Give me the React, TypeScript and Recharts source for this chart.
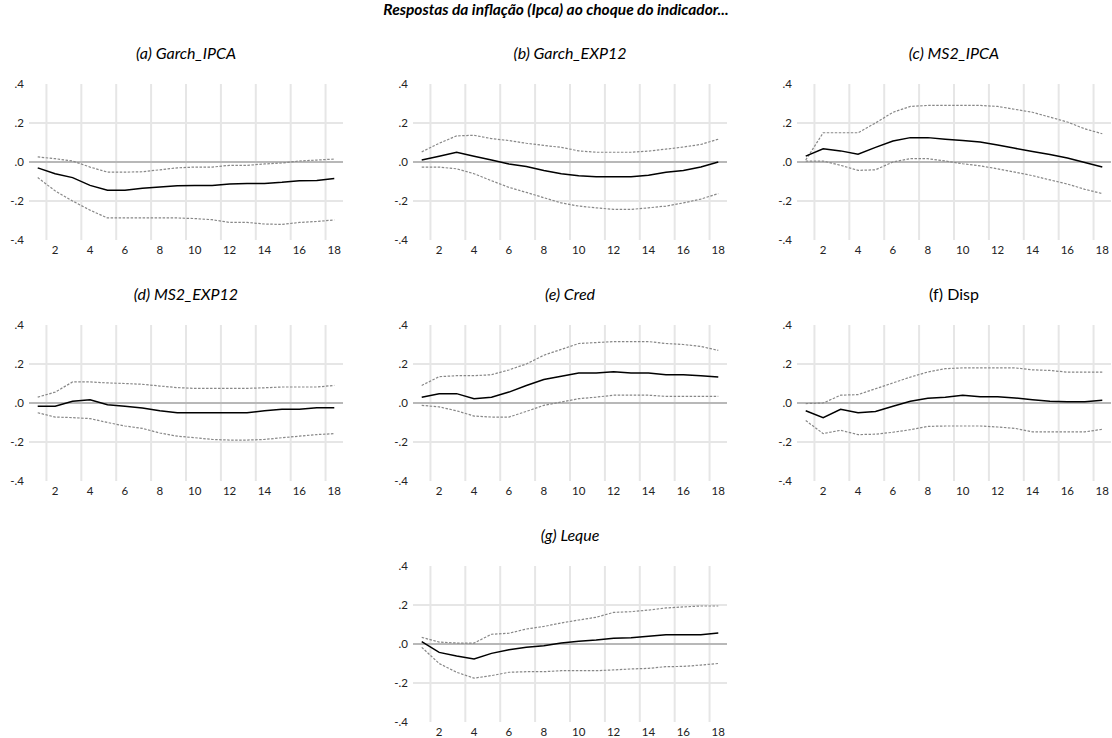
import React from 'react'
import { LineChart, Line, XAxis, YAxis, ReferenceLine } from 'recharts'

// horizontes (meses)
const horizons = [1, 2, 3, 4, 5, 6, 7, 8, 9, 10, 11, 12, 13, 14, 15, 16, 17, 18]
const xTicks = [2, 4, 6, 8, 10, 12, 14, 16, 18]
const yTicks = [-0.4, -0.2, 0, 0.2, 0.4]
const gridX = [1.5, 3.5, 5.5, 7.5, 9.5, 11.5, 13.5, 15.5, 17.5]
const gridY = [-0.2, 0.2]

// (a) Garch_IPCA
const garchIpcaResp = [-0.03, -0.06, -0.08, -0.12, -0.145, -0.145, -0.135, -0.128, -0.122, -0.12, -0.12, -0.113, -0.11, -0.11, -0.104, -0.096, -0.095, -0.085]
const garchIpcaUpper = [0.026, 0.017, 0.005, -0.026, -0.052, -0.052, -0.05, -0.04, -0.03, -0.026, -0.026, -0.017, -0.017, -0.01, -0.005, 0.005, 0.01, 0.015]
const garchIpcaLower = [-0.08, -0.148, -0.2, -0.247, -0.287, -0.287, -0.287, -0.287, -0.287, -0.29, -0.296, -0.31, -0.31, -0.318, -0.32, -0.31, -0.305, -0.297]

// (b) Garch_EXP12
const garchExpResp = [0.01, 0.03, 0.05, 0.03, 0.01, -0.01, -0.023, -0.044, -0.06, -0.07, -0.075, -0.075, -0.075, -0.068, -0.052, -0.044, -0.026, 0]
const garchExpUpper = [0.052, 0.096, 0.134, 0.137, 0.12, 0.11, 0.096, 0.085, 0.075, 0.057, 0.05, 0.05, 0.05, 0.056, 0.066, 0.077, 0.09, 0.117]
const garchExpLower = [-0.026, -0.026, -0.035, -0.06, -0.096, -0.13, -0.156, -0.183, -0.21, -0.226, -0.235, -0.243, -0.243, -0.235, -0.226, -0.21, -0.19, -0.162]

// (c) MS2_IPCA
const ms2IpcaResp = [0.03, 0.068, 0.057, 0.04, 0.075, 0.108, 0.125, 0.125, 0.117, 0.11, 0.103, 0.087, 0.07, 0.054, 0.038, 0.021, -0.003, -0.026]
const ms2IpcaUpper = [0.01, 0.15, 0.15, 0.15, 0.2, 0.255, 0.285, 0.29, 0.29, 0.29, 0.29, 0.285, 0.27, 0.255, 0.23, 0.205, 0.17, 0.145]
const ms2IpcaLower = [0.005, 0.005, -0.017, -0.043, -0.04, 0, 0.017, 0.017, 0.005, -0.009, -0.02, -0.035, -0.052, -0.07, -0.092, -0.113, -0.14, -0.162]

// (d) MS2_EXP12
const ms2ExpResp = [-0.017, -0.017, 0.009, 0.017, -0.009, -0.017, -0.026, -0.04, -0.05, -0.05, -0.05, -0.05, -0.05, -0.04, -0.032, -0.032, -0.024, -0.024]
const ms2ExpUpper = [0.03, 0.056, 0.108, 0.108, 0.103, 0.1, 0.096, 0.087, 0.079, 0.075, 0.075, 0.075, 0.075, 0.078, 0.082, 0.082, 0.082, 0.09]
const ms2ExpLower = [-0.05, -0.072, -0.075, -0.08, -0.1, -0.118, -0.13, -0.154, -0.17, -0.178, -0.187, -0.19, -0.19, -0.187, -0.178, -0.17, -0.162, -0.157]

// (e) Cred
const credResp = [0.03, 0.048, 0.048, 0.022, 0.03, 0.056, 0.09, 0.12, 0.137, 0.154, 0.154, 0.16, 0.154, 0.154, 0.145, 0.145, 0.14, 0.133]
const credUpper = [0.09, 0.135, 0.14, 0.14, 0.145, 0.17, 0.2, 0.245, 0.275, 0.305, 0.31, 0.315, 0.315, 0.315, 0.305, 0.3, 0.29, 0.27]
const credLower = [-0.012, -0.02, -0.04, -0.067, -0.072, -0.072, -0.043, -0.012, 0.005, 0.022, 0.03, 0.04, 0.04, 0.04, 0.034, 0.034, 0.034, 0.034]

// (f) Disp
const dispResp = [-0.04, -0.075, -0.032, -0.05, -0.043, -0.017, 0.009, 0.024, 0.03, 0.04, 0.032, 0.032, 0.026, 0.017, 0.009, 0.007, 0.007, 0.014]
const dispUpper = [-0.003, 0, 0.04, 0.043, 0.073, 0.103, 0.133, 0.159, 0.176, 0.18, 0.18, 0.18, 0.18, 0.17, 0.167, 0.158, 0.158, 0.158]
const dispLower = [-0.09, -0.157, -0.14, -0.162, -0.16, -0.15, -0.137, -0.12, -0.118, -0.118, -0.118, -0.123, -0.13, -0.148, -0.148, -0.148, -0.148, -0.135]

// (g) Leque
const lequeResp = [0.012, -0.043, -0.062, -0.077, -0.048, -0.03, -0.017, -0.009, 0.005, 0.014, 0.02, 0.03, 0.032, 0.04, 0.048, 0.048, 0.048, 0.056]
const lequeUpper = [0.034, 0.01, 0.005, 0.005, 0.05, 0.055, 0.077, 0.09, 0.108, 0.123, 0.137, 0.162, 0.166, 0.174, 0.185, 0.19, 0.195, 0.195]
const lequeLower = [-0.017, -0.1, -0.145, -0.175, -0.162, -0.145, -0.142, -0.142, -0.137, -0.137, -0.137, -0.133, -0.128, -0.125, -0.116, -0.115, -0.108, -0.1]

const FONT = 'Lato, "Open Sans", sans-serif'
const PLOT_W = 314
const PLOT_H = 156
const AXIS_W = 29
const TOP_PAD = 6
const AXIS_H = 18

const fmtY = (v: number) => v.toFixed(1).replace('0.', '.')

interface PanelProps {
  title: string
  italic?: boolean
  left: number
  top: number
  resp: number[]
  upper: number[]
  lower: number[]
}

const Panel: React.FC<PanelProps> = ({ title, italic = true, left, top, resp, upper, lower }) => {
  const data = horizons.map((h, i) => ({ h, resp: resp[i], upper: upper[i], lower: lower[i] }))
  return (
    <>
      <div
        style={{
          position: 'absolute',
          left: left,
          top: top - 41,
          width: PLOT_W,
          textAlign: 'center',
          fontFamily: FONT,
          fontSize: 16,
          lineHeight: '20px',
          fontStyle: italic ? 'italic' : 'normal',
          color: '#000',
        }}
      >
        {title}
      </div>
      <div style={{ position: 'absolute', left: left - AXIS_W, top: top - TOP_PAD }}>
        <LineChart
          width={AXIS_W + PLOT_W + 4}
          height={TOP_PAD + PLOT_H + AXIS_H}
          data={data}
          margin={{ top: TOP_PAD, right: 4, bottom: 0, left: 0 }}
        >
          <XAxis
            dataKey="h"
            type="number"
            domain={[0.5, 18.5]}
            ticks={xTicks}
            interval={0}
            axisLine={false}
            tickLine={false}
            tickSize={0}
            tickMargin={6}
            height={AXIS_H}
            tick={{ fontSize: 11.5, fill: '#222', fontFamily: FONT }}
          />
          <YAxis
            type="number"
            domain={[-0.4, 0.4]}
            ticks={yTicks}
            interval={0}
            width={AXIS_W}
            axisLine={false}
            tickLine={false}
            tickSize={0}
            tickMargin={5}
            tickFormatter={fmtY}
            tick={{ fontSize: 11.5, fill: '#222', fontFamily: FONT }}
          />
          {gridX.map((x) => (
            <ReferenceLine key={`gx-${x}`} x={x} stroke="#e6e6e6" strokeWidth={2} />
          ))}
          {gridY.map((y) => (
            <ReferenceLine key={`gy-${y}`} y={y} stroke="#e6e6e6" strokeWidth={2} />
          ))}
          <ReferenceLine y={0} stroke="#b8b8b8" strokeWidth={2} />
          <Line type="linear" dataKey="upper" stroke="#888" strokeWidth={1.2} strokeDasharray="2.5 1.5" dot={false} isAnimationActive={false} />
          <Line type="linear" dataKey="lower" stroke="#888" strokeWidth={1.2} strokeDasharray="2.5 1.5" dot={false} isAnimationActive={false} />
          <Line type="linear" dataKey="resp" stroke="#000" strokeWidth={1.5} dot={false} isAnimationActive={false} />
        </LineChart>
      </div>
    </>
  )
}

const colLeft = [29, 413, 797]
const rowTop = [84, 325, 566]

export default function App() {
  return (
    <div style={{ position: 'absolute', left: 0, top: 0, width: 1112, height: 738, background: '#fff', overflow: 'hidden' }}>
      <div
        style={{
          position: 'absolute',
          left: 0,
          top: -1,
          width: 1112,
          textAlign: 'center',
          fontFamily: FONT,
          fontSize: 15.5,
          lineHeight: '20px',
          fontWeight: 'bold',
          fontStyle: 'italic',
        }}
      >
        Respostas da inflação (Ipca) ao choque do indicador...
      </div>
      <Panel title="(a) Garch_IPCA" left={colLeft[0]} top={rowTop[0]} resp={garchIpcaResp} upper={garchIpcaUpper} lower={garchIpcaLower} />
      <Panel title="(b) Garch_EXP12" left={colLeft[1]} top={rowTop[0]} resp={garchExpResp} upper={garchExpUpper} lower={garchExpLower} />
      <Panel title="(c) MS2_IPCA" left={colLeft[2]} top={rowTop[0]} resp={ms2IpcaResp} upper={ms2IpcaUpper} lower={ms2IpcaLower} />
      <Panel title="(d) MS2_EXP12" left={colLeft[0]} top={rowTop[1]} resp={ms2ExpResp} upper={ms2ExpUpper} lower={ms2ExpLower} />
      <Panel title="(e) Cred" left={colLeft[1]} top={rowTop[1]} resp={credResp} upper={credUpper} lower={credLower} />
      <Panel title="(f) Disp" italic={false} left={colLeft[2]} top={rowTop[1]} resp={dispResp} upper={dispUpper} lower={dispLower} />
      <Panel title="(g) Leque" left={colLeft[1]} top={rowTop[2]} resp={lequeResp} upper={lequeUpper} lower={lequeLower} />
    </div>
  )
}
